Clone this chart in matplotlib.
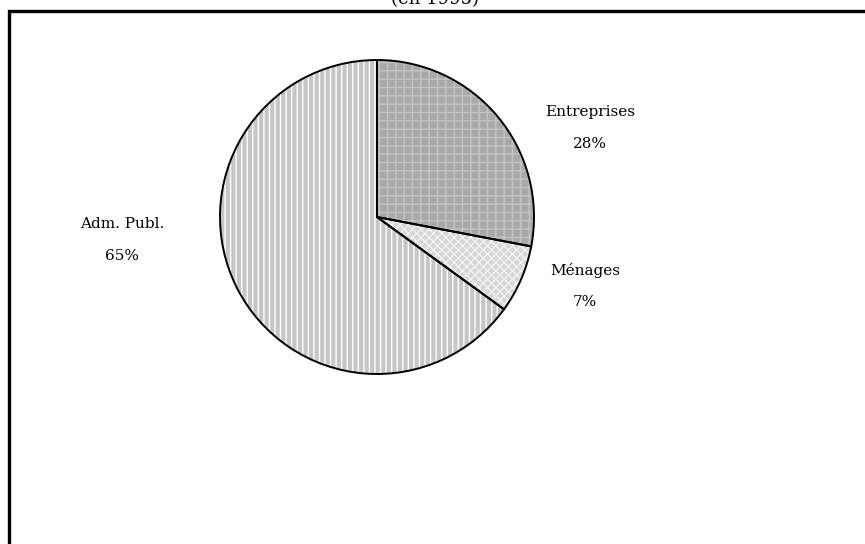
import matplotlib

matplotlib.use("Agg")
import matplotlib.pyplot as plt
from matplotlib.patches import Rectangle

W, H = 865, 544
DPI = 100

sectors = ["Entreprises", "Ménages", "Adm. Publ."]
shares = [28, 7, 65]
face_colors = ["#a9a9a9", "#d6d6d6", "#c6c6c6"]
hatch_colors = ["#c4c4c4", "#f2f2f2", "#ffffff"]
hatches = ["++", "xxxx", "|||"]
title = "(en 1995)"

# label anchors in pixel coords (centre x, top line y)
label_pos = [(590, 112), (585, 270), (122, 224)]

plt.rcParams["font.family"] = ["DejaVu Serif"]
plt.rcParams["hatch.linewidth"] = 1.0

fig = plt.figure(figsize=(W / DPI, H / DPI), dpi=DPI)

cx, cy, r = 377, 217, 157
ax = fig.add_axes([(cx - r) / W, (H - cy - r) / H, 2 * r / W, 2 * r / H])

# fill + hatch
wedges, _ = ax.pie(shares, radius=1, startangle=90, counterclock=False,
                   colors=face_colors, wedgeprops=dict(linewidth=0))
for w, hc, h in zip(wedges, hatch_colors, hatches):
    w.set_hatch(h)
    w.set_edgecolor(hc)

# outlines
ax.pie(shares, radius=1, startangle=90, counterclock=False,
       wedgeprops=dict(fill=False, edgecolor="black", linewidth=1.4))

ax.set_xlim(-1, 1)
ax.set_ylim(-1, 1)
ax.set_aspect("equal")
ax.axis("off")

for name, pct, (lx, ly) in zip(sectors, shares, label_pos):
    fig.text(lx / W, 1 - ly / H, name, ha="center", va="center", fontsize=11)
    fig.text(lx / W, 1 - (ly + 32) / H, f"{pct}%", ha="center", va="center", fontsize=11)

fig.text(435 / W, 1 - 4 / H, title, ha="center", va="baseline", fontsize=13)

# frame around the chart area
fig.patches.append(Rectangle((9 / W, -0.1), 1.2, 1 - 11 / H + 0.1,
                             transform=fig.transFigure, fill=False,
                             edgecolor="black", linewidth=2.4))

fig.savefig("out.png", dpi=DPI)
